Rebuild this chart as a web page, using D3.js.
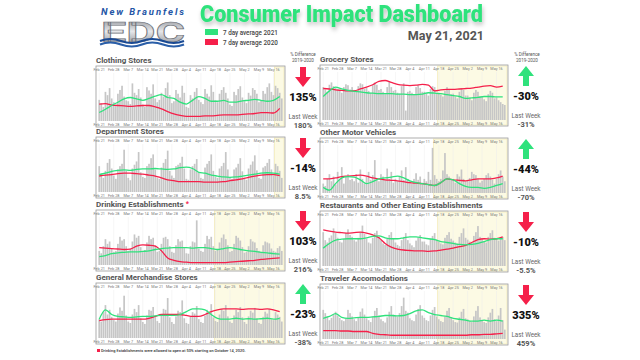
<!DOCTYPE html>
<html><head><meta charset="utf-8">
<script src="https://cdn.jsdelivr.net/npm/d3@7"></script>
<style>body{margin:0;background:#fff}svg{display:block}text{font-family:Roboto,"DejaVu Sans",sans-serif}</style>
</head><body><svg id="c" width="640" height="360"></svg>
<script>
// ---------- DATA ----------
const tickLabels = ["Feb 21","Feb 28","Mar 7","Mar 14","Mar 21","Mar 28","Apr 4","Apr 11","Apr 18","Apr 25","May 2","May 9","May 16"];
const panelTitles = ["Clothing Stores","Department Stores","Drinking Establishments","General Merchandise Stores",
  "Grocery Stores","Other Motor Vehicles","Restaurants and Other Eating Establishments","Traveler Accomodations"];
const diffValues = ["135%","-14%","103%","-23%","-30%","-44%","-10%","335%"];
const lastWeekValues = ["180%","8.5%","216%","-38%","-31%","-70%","-5.5%","459%"];
const arrowDirs = ["down","down","down","up","up","up","down","down"];
const shadeStarts = ["2021-05-17","2021-05-17","2021-04-18","2021-04-18","2021-04-18","2021-04-16","2021-04-18","2021-04-18"];

const clothingBars = [45,38,30,62,55,70,48, 40,35,58,66,75,52,44, 42,36,80,60,55,68,50, 35,30,72,65,58,78,48, 40,45,60,52,70,82,55, 38,42,66,58,50,75,60, 30,28,55,48,62,70,45, 40,36,68,58,52,76,62, 44,40,58,66,72,60,48, 35,32,62,55,68,74,50, 42,38,60,54,70,66,58, 40,44,64,58,72,80,62, 55,75,70,60,48];
const clothing2021 = [18,25,33,40,47,50,47,44,48,53,56,50,48,40,36,44,52,48,42,42,44,40,40,43,44,46,44,42,44,52];
const clothing2020 = [36,37,34,33,32,31,32,33,33,30,26,20,15,12,10,10,10,11,11,12,13,13,13,14,15,16,18,18,17,27];

const departmentBars = [55,40,30,45,62,70,50, 35,28,48,55,60,90,45, 30,25,50,58,65,85,42, 32,30,55,60,72,80,48, 30,28,52,62,70,88,45, 35,30,55,58,62,75,50, 28,26,48,55,60,70,42, 30,28,52,60,66,80,45, 32,30,50,55,62,85,48, 30,28,48,52,60,72,44, 28,26,50,58,65,78,46, 30,28,52,55,62,70,48, 35,60,55,45,30];
const department2021 = [37,40,44,46,47,46,48,49,49,50,49,48,49,52,53,50,42,40,36,34,32,31,32,34,36,38,40,41,40,38];
const department2020 = [34,36,37,39,40,40,39,38,36,34,30,26,24,22,22,22,22,21,21,21,22,24,26,28,31,34,36,37,37,35];

const drinkingBars = [30,25,40,55,45,50,35, 28,30,45,60,52,55,40, 30,35,50,65,58,62,38, 30,32,48,62,55,58,42, 28,30,45,58,60,55,40, 28,26,42,55,50,52,36, 25,24,40,50,48,95,35, 30,28,45,62,55,60,40, 30,32,48,58,65,55,42, 28,30,45,62,58,52,38, 26,28,40,55,50,48,36, 30,28,42,50,48,46,35, 30,28,36,40,30];
const drinking2021 = [18,20,24,26,27,28,28,29,30,33,35,36,37,37,37,36,37,37,35,33,35,37,35,32,30,29,27,26,24,23];
const drinking2020 = [37,36,35,34,33,34,40,43,42,40,30,15,10,7,6,5,5,5,5,5,5,6,7,8,9,10,12,13,14,15];

const generalBars = [40,35,55,70,50,60,45, 38,35,52,65,58,90,48, 35,32,50,62,55,70,42, 34,30,48,60,58,66,45, 36,32,50,62,60,85,44, 34,30,46,58,55,80,42, 32,30,45,55,52,68,40, 34,32,48,60,56,72,44, 36,34,50,62,58,70,46, 35,32,48,60,55,66,44, 34,30,46,58,54,64,42, 32,30,45,56,52,62,40, 38,55,50,45,35];
const general2021 = [40,60,50,46,45,44,45,46,46,47,48,48,48,50,56,62,62,60,50,42,40,40,42,40,41,40,41,42,40,42];
const general2020 = [37,39,40,40,40,40,40,40,42,46,50,50,50,50,48,46,46,50,56,60,62,62,62,61,62,62,61,62,60,56];

const groceryBars = [70,65,60,75,80,72,68, 66,62,58,70,76,74,65, 70,64,60,72,78,76,66, 68,62,58,74,80,75,64, 66,60,55,70,82,70,62, 64,58,56,72,78,20,60, 62,58,55,70,74,68,60, 60,56,52,66,72,70,58, 58,54,50,62,70,66,55, 56,50,46,60,68,64,52, 52,48,42,58,64,60,50, 50,44,40,55,62,58,46, 48,42,38,34,32];
const grocery2021 = [50,62,70,66,63,61,60,58,57,56,56,56,55,55,54,54,55,58,57,56,54,52,50,46,47,48,50,50,49,49];
const grocery2020 = [67,66,64,63,62,62,66,70,75,82,84,80,76,74,73,74,76,74,62,64,65,65,66,67,68,70,72,73,70,72];

const motorBars = [20,15,30,40,25,35,18, 45,30,55,20,35,40,28, 30,25,40,22,50,30,20, 35,45,28,38,70,30,25, 40,35,28,52,30,45,22, 30,25,35,48,28,55,30, 25,20,30,42,28,35,22, 30,25,45,28,96,38,30, 25,30,48,85,40,35,28, 30,22,40,35,50,30,25, 28,32,45,40,38,30,22, 26,30,38,42,35,28,20, 30,40,48,35,25];
const motor2021 = [12,6,20,32,35,34,28,20,24,30,32,34,36,32,26,22,20,18,16,22,30,28,20,14,12,12,10,12,16,20];
const motor2020 = [30,30,32,35,36,37,38,36,32,30,28,27,26,24,22,21,20,18,16,22,30,28,27,26,28,30,30,30,32,36];

const restaurantBars = [72,55,50,60,65,80,70, 60,52,50,58,70,78,66, 62,55,52,60,72,86,68, 58,50,48,60,70,75,62, 55,48,45,58,66,72,58, 50,45,42,55,62,70,55, 48,44,40,54,60,66,52, 52,46,44,58,64,70,56, 52,48,46,60,66,72,58, 54,50,48,62,70,80,60, 56,52,50,64,72,85,62, 58,52,50,62,70,76,60, 58,54,60,62,55];
const restaurant2021 = [38,48,55,57,58,58,58,60,63,64,60,58,58,60,62,62,60,58,56,52,50,48,46,45,46,48,52,56,58,58];
const restaurant2020 = [77,74,72,71,70,71,72,70,66,60,48,40,36,34,33,32,32,31,32,34,36,38,41,44,50,56,58,57,58,62];

const travelerBars = [62,55,48,40,45,52,58, 50,45,40,38,44,62,55, 48,42,38,45,58,65,52, 44,40,36,48,60,66,50, 42,38,35,46,58,70,52, 50,48,55,70,88,60,56, 44,40,38,52,64,72,50, 45,40,38,50,62,68,48, 42,38,36,48,60,66,46, 40,36,35,46,58,64,44, 42,38,36,48,60,70,46, 40,36,34,46,56,64,42, 38,50,66,40,20];
const traveler2021 = [44,48,54,46,44,45,46,46,47,48,50,50,49,50,54,60,62,56,52,50,48,44,42,40,38,38,40,38,40,38];
const traveler2020 = [18,18,18,17,17,16,16,16,12,10,9,8,8,8,8,8,8,8,8,8,8,8,8,8,9,9,10,10,11,12];

// ---------- BUILD ----------
const parse = d3.timeParse("%Y-%m-%d");
const dates = d3.timeDay.range(new Date(2021,1,21), new Date(2021,4,21));
const tickDates = dates.filter((d,i)=>i%7===0);
const lineDates = dates.filter((d,i)=>i%3===0);

const bars = [clothingBars,departmentBars,drinkingBars,generalBars,groceryBars,motorBars,restaurantBars,travelerBars];
const l2021 = [clothing2021,department2021,drinking2021,general2021,grocery2021,motor2021,restaurant2021,traveler2021];
const l2020 = [clothing2020,department2020,drinking2020,general2020,grocery2020,motor2020,restaurant2020,traveler2020];

const GREEN = "#2fe27c", RED = "#f5204a";
const svg = d3.select("#c");
const defs = svg.append("defs");
const sh = defs.append("filter").attr("id","sh").attr("x","-10%").attr("y","-30%").attr("width","120%").attr("height","180%");
sh.append("feDropShadow").attr("dx",1).attr("dy",3).attr("stdDeviation",2).attr("flood-color","#000").attr("flood-opacity",0.25);
const gr = defs.append("linearGradient").attr("id","edc").attr("x1",0).attr("y1",0).attr("x2",0).attr("y2",1);
gr.append("stop").attr("offset","0%").attr("stop-color","#8a8d93");
gr.append("stop").attr("offset","45%").attr("stop-color","#e6e7ea");
gr.append("stop").attr("offset","100%").attr("stop-color","#7b7e85");

// Logo
svg.append("text").attr("x",101).attr("y",15).attr("font-family","'DejaVu Serif',serif").attr("font-style","italic").attr("font-weight","bold")
  .attr("font-size",9.5).attr("fill","#2456a6").attr("textLength",83).text("New Braunfels");
svg.append("text").attr("x",101).attr("y",42).attr("font-family","'Liberation Serif',serif").attr("font-weight","bold")
  .attr("font-size",27).attr("fill","url(#edc)").attr("stroke","#6d7077").attr("stroke-width",0.6).attr("textLength",84).attr("lengthAdjust","spacingAndGlyphs").text("EDC");
[0,3.5].forEach((o,i)=>{
  svg.append("path").attr("d",`M100,${41+o} q10,-4 21,0 t21,0 t21,0 t21,0`).attr("fill","none")
    .attr("stroke",i?"#2a5ea8":"#1b4a93").attr("stroke-width",2.2);
});

// Title & legend
svg.append("text").attr("x",200).attr("y",22).attr("font-size",23).attr("font-weight",900).attr("fill",GREEN)
  .attr("filter","url(#sh)").attr("textLength",283).attr("lengthAdjust","spacingAndGlyphs").text("Consumer Impact Dashboard");
const legend = [["7 day average 2021",GREEN],["7 day average 2020",RED]];
legend.forEach((l,i)=>{
  svg.append("rect").attr("x",205).attr("y",29+i*10).attr("width",13).attr("height",6).attr("fill",l[1]);
  svg.append("text").attr("x",223).attr("y",35+i*10).attr("font-size",6.3).attr("font-weight",500).attr("fill","#444").text(l[0]);
});
svg.append("text").attr("x",484).attr("y",39.5).attr("text-anchor","end").attr("font-size",12.5).attr("font-weight",700).attr("fill","#555").text("May 21, 2021");

// % Difference headers
[303,527].forEach(cx=>{
  ["% Difference","2019-2020"].forEach((t,i)=>svg.append("text").attr("x",cx).attr("y",56+i*6).attr("text-anchor","middle")
    .attr("font-size",4.6).attr("fill","#555").text(t));
});

// Panels
const colX = [[96,285,303],[320,508,526]];
const tops = [[66,137,210,283],[65,138,211,284]];
const H = 61;
for (let p=0;p<8;p++){
  const col = p<4?0:1, row = p%4;
  const [x0,x1,cx] = colX[col];
  const y0 = tops[col][row], y1 = y0+H;
  const g = svg.append("g");
  // title
  const tt = g.append("text").attr("x",x0).attr("y",y0-3).attr("font-size",8).attr("font-weight",700).attr("fill","#555").text(panelTitles[p]);
  if (p===2) g.append("text").attr("x",x0+tt.node().getComputedTextLength()+2).attr("y",y0-4).attr("font-size",7).attr("font-weight",700).attr("fill",RED).text("*");
  g.append("rect").attr("x",x0).attr("y",y0).attr("width",x1-x0).attr("height",H).attr("fill","#fff");
  const x = d3.scaleBand().domain(dates).range([x0+2,x1-2]).padding(0.18);
  const pyTop = y0+8, pyBot = y1-6;
  const y = d3.scaleLinear().domain([0,100]).range([pyBot,pyTop]);
  // shade
  const s = parse(shadeStarts[p]);
  const sx = x(s)-x.step()*0.1;
  g.append("rect").attr("x",sx).attr("y",y0+1).attr("width",x1-1-sx).attr("height",H-2)
    .attr("fill","#fcfae4").attr("stroke","#f1e6a8").attr("stroke-width",0.6);
  // grid
  g.selectAll(".gl").data(tickDates).join("line").attr("x1",d=>x(d)+x.bandwidth()/2).attr("x2",d=>x(d)+x.bandwidth()/2)
    .attr("y1",y0+7).attr("y2",y1-6).attr("stroke","#ececec").attr("stroke-width",0.5);
  // bars
  g.selectAll(".b").data(bars[p]).join("rect").attr("x",(d,i)=>x(dates[i])).attr("width",x.bandwidth())
    .attr("y",d=>y(d)).attr("height",d=>y(0)-y(d)).attr("fill","#c6c6c6");
  // axes
  const fmt = d=>tickLabels[tickDates.findIndex(t=>+t===+d)];
  const axT = g.append("g").attr("transform",`translate(0,${y0+5})`).call(d3.axisTop(x).tickValues(tickDates).tickFormat(fmt).tickSize(0).tickPadding(0));
  const axB = g.append("g").attr("transform",`translate(0,${y1-1.5})`).call(d3.axisTop(x).tickValues(tickDates).tickFormat(fmt).tickSize(0).tickPadding(0));
  [axT,axB].forEach(a=>{a.select(".domain").remove();a.selectAll("text").attr("font-size",3.8).attr("fill","#777").attr("font-family","Roboto,sans-serif");});
  // lines
  const ln = d3.line().x((d,i)=>x(lineDates[i])+x.bandwidth()/2).y(d=>y(d)).curve(d3.curveMonotoneX);
  g.append("path").datum(l2020[p]).attr("d",ln).attr("fill","none").attr("stroke",RED).attr("stroke-width",1.3);
  g.append("path").datum(l2021[p]).attr("d",ln).attr("fill","none").attr("stroke",GREEN).attr("stroke-width",1.3);
  // frame
  g.append("rect").attr("x",x0).attr("y",y0).attr("width",x1-x0).attr("height",H).attr("fill","none").attr("stroke","#9a9a9a").attr("stroke-width",0.8);
  // indicator
  const t = y0+1, b = y0+21, up = arrowDirs[p]==="up";
  const arrow = up
    ? `M${cx-3},${b} L${cx+3},${b} L${cx+3},${t+10} L${cx+8},${t+10} L${cx},${t} L${cx-8},${t+10} L${cx-3},${t+10} Z`
    : `M${cx-3},${t} L${cx+3},${t} L${cx+3},${b-10} L${cx+8},${b-10} L${cx},${b} L${cx-8},${b-10} L${cx-3},${b-10} Z`;
  svg.append("path").attr("d",arrow).attr("fill",up?GREEN:RED);
  svg.append("text").attr("x",cx).attr("y",y0+35).attr("text-anchor","middle").attr("font-size",11).attr("font-weight",900).attr("fill","#111").text(diffValues[p]);
  svg.append("text").attr("x",cx).attr("y",y0+53).attr("text-anchor","middle").attr("font-size",6.3).attr("fill","#666").text("Last Week");
  svg.append("text").attr("x",cx).attr("y",y0+62).attr("text-anchor","middle").attr("font-size",7.5).attr("font-weight",700).attr("fill","#555").text(lastWeekValues[p]);
}
// footnote
svg.append("rect").attr("x",97).attr("y",349).attr("width",3).attr("height",3).attr("fill",RED);
svg.append("text").attr("x",101).attr("y",352.3).attr("font-size",3.9).attr("fill","#333").attr("font-weight",500)
  .text("Drinking Establishments were allowed to open at 50% starting on October 14, 2020.");
</script></body></html>
